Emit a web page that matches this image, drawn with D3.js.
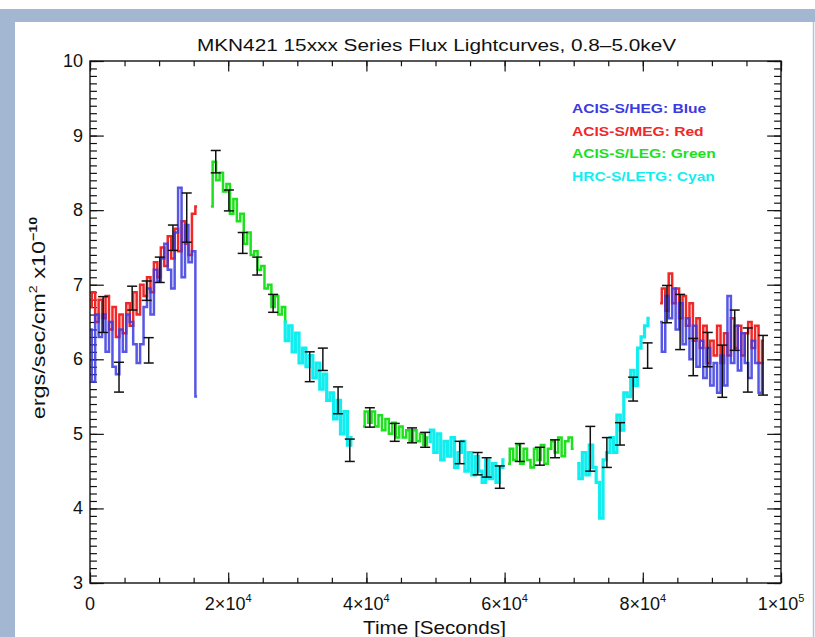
<!DOCTYPE html>
<meta charset="utf-8">
<html>
<head>
<style>
  body { margin: 0; background: #fff; }
  text { font-family: "Liberation Sans", Arial, sans-serif; fill: #111; }
</style>
<script src="https://d3js.org/d3.v7.min.js"></script>
</head>
<body>
<svg width="815" height="637"></svg>
<script>

// bin width of every lightcurve (seconds)
var BIN = 500;

// ACIS-S/HEG (blue)
var heg1Start = 0;
var heg1 = [6.4,5.7,6.6,6.3,6.6,6.1,6.5,5.9,5.8,6.4,6.1,6.6,6.5,6.2,5.95,6.2,6.7,6.95,6.6,7.2,7.05,7.35,7.55,7.2,6.95,7.7,8.3,7.1,7.8,7.3,7.45,5.5];
var heg2Start = 82500;
var heg2 = [6.5,6.1,6.85,6.55,6.95,6.4,6.75,6.2,6.55,6.0,6.45,5.9,6.25,5.75,6.15,5.65,5.95,5.55,6.05,5.65,6.85,5.95,6.45,5.85,6.35,5.95,5.75,6.25,5.95,5.55,5.95];

// ACIS-S/MEG (red)
var meg1Start = 0;
var meg1 = [6.7,6.9,6.5,6.8,6.55,6.85,6.4,6.7,6.3,6.6,6.35,6.75,6.45,6.9,6.6,7.0,6.85,7.1,6.9,7.3,7.1,7.5,7.25,7.65,7.35,7.75,7.45,7.85,7.55,7.4,7.95,8.05];
var meg2Start = 82500;
var meg2 = [6.75,6.95,6.65,7.15,6.75,6.95,6.55,6.85,6.45,6.75,6.25,6.55,6.15,6.45,5.95,6.25,6.05,6.45,5.95,6.35,6.05,6.55,6.15,6.45,6.05,6.35,6.5,6.15,6.45,5.95,6.25];

// ACIS-S/LEG (green)
var leg1Start = 17500;
var leg1 = [8.05,8.65,8.4,8.5,8.25,8.35,7.95,8.15,7.85,7.95,7.55,7.7,7.4,7.45,7.2,7.25,6.95,7.0,6.7,6.85,6.6,6.7,6.5];
var leg2Start = 39500;
var leg2 = [5.1,5.3,5.15,5.3,5.1,5.25,5.05,5.2,5.0,5.15,4.95,5.1,4.95,5.05,4.9,5.05,4.9,5.0,4.85,4.95];
var leg3Start = 60500;
var leg3 = [4.6,4.8,4.65,4.85,4.6,4.8,4.65,4.55,4.8,4.65,4.85,4.6,4.8,4.9,4.75,4.95,4.7,4.9,4.95,4.8];

// HRC-S/LETG (cyan)
var letg1Start = 28000;
var letg1 = [6.5,6.25,6.45,6.1,6.35,5.95,6.15,5.9,6.05,5.75,5.95,5.6,5.8,5.45,5.55,5.2,5.45,5.0,5.3,4.85,4.95];
var letg2Start = 49000;
var letg2 = [4.9,5.05,4.75,5.0,4.65,4.9,4.7,4.95,4.55,4.75,4.9,4.5,4.75,4.45,4.7,4.5,4.35,4.65,4.4,4.6,4.35,4.55,4.65];
var letg3Start = 70500;
var letg3 = [4.6,4.4,4.75,4.45,4.85,4.55,4.35,3.87,4.65,4.75,4.95,4.75,5.25,5.05,5.55,5.5,5.85,5.65,6.15,6.3,6.45,6.55];

// error bars
var errTime = [1900,4200,6100,8200,8500,10100,12000,14000,18200,20100,22100,24200,26500,31800,33700,35900,37600,40500,44100,46600,48500,53500,56100,57400,59300,62200,65100,67300,72400,74800,76700,78600,80700,83500,85400,87300,89400,91500,93300,95200,97400];
var errFlux = [6.6,5.76,6.82,6.92,6.12,7.2,7.63,7.9,8.65,8.13,7.56,7.25,6.75,5.9,6.0,5.45,4.78,5.22,5.02,4.98,4.92,4.75,4.6,4.55,4.42,4.75,4.7,4.8,4.8,4.75,5.0,5.6,6.05,6.74,6.5,6.03,6.13,5.84,6.39,5.99,5.92];
var errSize = [0.24,0.2,0.16,0.13,0.17,0.17,0.17,0.33,0.15,0.14,0.14,0.12,0.12,0.2,0.15,0.18,0.15,0.13,0.12,0.1,0.1,0.15,0.15,0.13,0.15,0.12,0.12,0.12,0.3,0.2,0.15,0.16,0.17,0.25,0.37,0.25,0.23,0.35,0.27,0.43,0.4];

var legendLabels = ["ACIS-S/HEG: Blue", "ACIS-S/MEG: Red", "ACIS-S/LEG: Green", "HRC-S/LETG: Cyan"];
var xTickMant = ["0", "2\u00d710", "4\u00d710", "6\u00d710", "8\u00d710", "1\u00d710"];
var xTickExp = ["", "4", "4", "4", "4", "5"];
var yTicks = [3, 4, 5, 6, 7, 8, 9, 10];

var colors = {heg: "#3a3ae0", meg: "#f02828", leg: "#1ee01e", letg: "#12eef0"};

var svg = d3.select("svg"),
    width = +svg.attr("width"),
    height = +svg.attr("height"),
    margin = {top: 61, right: 34, bottom: 54, left: 90};

// slide frame
svg.append("rect").attr("x", 0).attr("y", 9).attr("width", width).attr("height", 13).attr("fill", "#a3b6d2");
svg.append("rect").attr("x", 0).attr("y", 9).attr("width", 15).attr("height", height - 9).attr("fill", "#a3b6d2");
svg.append("line").attr("x1", 813.5).attr("x2", 813.5).attr("y1", 22).attr("y2", height)
    .attr("stroke", "#b4c4dc").attr("stroke-width", 1.5);

var x = d3.scaleLinear()
    .domain([0, 100000])
    .range([margin.left, width - margin.right]);

var y = d3.scaleLinear()
    .domain([3, 10])
    .range([height - margin.bottom, margin.top]);

var pw = x.range()[1] - x.range()[0],
    ph = y.range()[0] - y.range()[1];
var xLen = 0.02 * ph, yLen = 0.02 * pw;

var xMajor = d3.range(0, 100001, 20000),
    xMinor = d3.range(0, 100001, 5000),
    yMinor = d3.range(30, 101).map(function(d) { return d / 10; });

function tickAxis(axis, tr) {
  var g = svg.append("g").attr("transform", tr).call(axis);
  g.select(".domain").remove();
  g.selectAll(".tick line").attr("stroke", "#111").attr("stroke-width", 1.2);
  g.selectAll(".tick text").remove();
  return g;
}

var b = y.range()[0], t = y.range()[1], l = x.range()[0], r = x.range()[1];
tickAxis(d3.axisBottom(x).tickValues(xMajor).tickSize(-xLen), "translate(0," + b + ")");
tickAxis(d3.axisBottom(x).tickValues(xMinor).tickSize(-xLen / 2), "translate(0," + b + ")");
tickAxis(d3.axisTop(x).tickValues(xMajor).tickSize(-xLen), "translate(0," + t + ")");
tickAxis(d3.axisTop(x).tickValues(xMinor).tickSize(-xLen / 2), "translate(0," + t + ")");
tickAxis(d3.axisLeft(y).tickValues(yTicks).tickSize(-yLen), "translate(" + l + ",0)");
tickAxis(d3.axisLeft(y).tickValues(yMinor).tickSize(-yLen / 2), "translate(" + l + ",0)");
tickAxis(d3.axisRight(y).tickValues(yTicks).tickSize(-yLen), "translate(" + r + ",0)");
tickAxis(d3.axisRight(y).tickValues(yMinor).tickSize(-yLen / 2), "translate(" + r + ",0)");

// lightcurves
var line = d3.line()
    .x(function(d) { return x(d[0]); })
    .y(function(d) { return y(d[1]); })
    .curve(d3.curveStep);

function series(start, vals) {
  return vals.map(function(v, i) { return [start + i * BIN, v]; });
}

var segments = [
  {key: "meg", data: series(meg1Start, meg1)},
  {key: "heg", data: series(heg1Start, heg1)},
  {key: "meg", data: series(meg2Start, meg2)},
  {key: "heg", data: series(heg2Start, heg2)},
  {key: "leg", data: series(leg1Start, leg1)},
  {key: "leg", data: series(leg2Start, leg2)},
  {key: "leg", data: series(leg3Start, leg3)},
  {key: "letg", data: series(letg1Start, letg1)},
  {key: "letg", data: series(letg2Start, letg2)},
  {key: "letg", data: series(letg3Start, letg3)}
];

svg.append("g")
    .attr("fill", "none")
    .attr("stroke-linejoin", "miter")
  .selectAll("path")
  .data(segments)
  .enter().append("path")
    .attr("stroke", function(d) { return colors[d.key]; })
    .attr("stroke-width", function(d) { return d.key == "letg" ? 3.2 : 2.5; })
    .attr("opacity", function(d) { return d.key == "heg" ? 0.85 : 1; })
    .attr("d", function(d) { return line(d.data); });

// error bars
var eb = svg.append("g").attr("stroke", "#111").attr("stroke-width", 1.5)
  .selectAll("g")
  .data(errTime.map(function(tt, i) { return {t: tt, v: errFlux[i], e: errSize[i]}; }))
  .enter().append("g");
eb.append("line")
    .attr("x1", function(d) { return x(d.t); }).attr("x2", function(d) { return x(d.t); })
    .attr("y1", function(d) { return y(d.v + d.e); }).attr("y2", function(d) { return y(d.v - d.e); });
eb.append("line")
    .attr("x1", function(d) { return x(d.t) - 5; }).attr("x2", function(d) { return x(d.t) + 5; })
    .attr("y1", function(d) { return y(d.v + d.e); }).attr("y2", function(d) { return y(d.v + d.e); });
eb.append("line")
    .attr("x1", function(d) { return x(d.t) - 5; }).attr("x2", function(d) { return x(d.t) + 5; })
    .attr("y1", function(d) { return y(d.v - d.e); }).attr("y2", function(d) { return y(d.v - d.e); });

// plot box
svg.append("rect")
    .attr("x", l).attr("y", t).attr("width", pw).attr("height", ph)
    .attr("fill", "none").attr("stroke", "#111").attr("stroke-width", 1.4);

// tick labels
svg.selectAll(".ylab")
  .data(yTicks)
  .enter().append("text")
    .attr("class", "ylab")
    .attr("x", l - 7)
    .attr("y", function(d) { return y(d) + 6; })
    .attr("text-anchor", "end")
    .attr("font-size", 18)
    .text(function(d) { return d; });

var xl = svg.selectAll(".xlab")
  .data(xMajor)
  .enter().append("text")
    .attr("class", "xlab")
    .attr("x", function(d) { return x(d); })
    .attr("y", b + 27)
    .attr("text-anchor", "middle")
    .attr("font-size", 18);
xl.append("tspan").text(function(d, i) { return xTickMant[i]; });
xl.append("tspan").attr("dy", -8).attr("font-size", 11).text(function(d, i) { return xTickExp[i]; });

// titles (IDL's font is wider than Arial, so stretch horizontally)
svg.append("text")
    .attr("transform", "translate(" + (l + r + 2) / 2 + ",51) scale(1.26,1)")
    .attr("text-anchor", "middle")
    .attr("font-size", 16.5)
    .text("MKN421 15xxx Series Flux Lightcurves, 0.8\u20135.0keV");

svg.append("text")
    .attr("transform", "translate(" + (l + r - 2) / 2 + ",634) scale(1.15,1)")
    .attr("text-anchor", "middle")
    .attr("font-size", 18)
    .text("Time [Seconds]");

var yt = svg.append("text")
    .attr("transform", "translate(45,318) rotate(-90) scale(1.3,1)")
    .attr("text-anchor", "middle")
    .attr("font-size", 18);
yt.append("tspan").text("ergs/sec/cm");
yt.append("tspan").attr("dy", -8).attr("font-size", 11).text("2");
yt.append("tspan").attr("dy", 8).text(" x10");
yt.append("tspan").attr("dy", -8).attr("font-size", 11).attr("font-weight", "bold").text("\u221210");

// legend
svg.selectAll(".leg")
  .data(legendLabels)
  .enter().append("text")
    .attr("class", "leg")
    .attr("transform", function(d, i) { return "translate(572," + (113 + i * 22.7) + ") scale(1.2,1)"; })
    .attr("font-size", 13)
    .attr("font-weight", "bold")
    .style("fill", function(d, i) { return colors[["heg", "meg", "leg", "letg"][i]]; })
    .text(function(d) { return d; });

</script>
</body>
</html>
